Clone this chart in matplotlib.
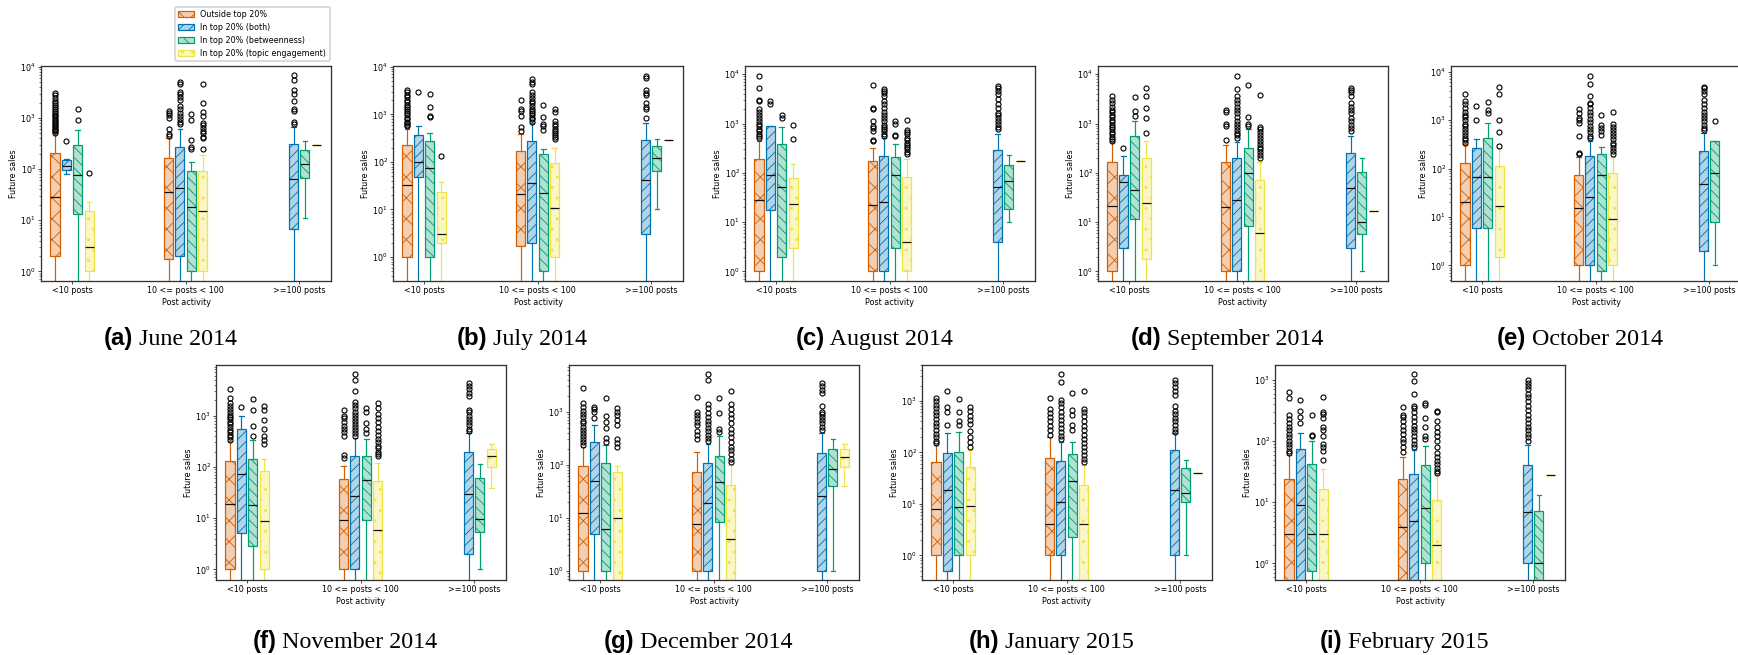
import matplotlib
matplotlib.use("Agg")
import matplotlib.pyplot as plt
from matplotlib.patches import Patch

# figure size in pixels
W, H = 1738, 655
DPI = 125

groups = ["<10 posts", "10 <= posts < 100", ">=100 posts"]
series = ["Outside top 20%", "In top 20% (both)", "In top 20% (betweenness)",
          "In top 20% (topic engagement)"]
colors = ["#d55e00", "#0072b2", "#009e73", "#f0e442"]
hatches = ["xx", "////", "\\\\\\\\", ".."]

# one row per box: (group, series, q1, median, q3, whisker low, whisker high, fliers)
# whisker low / q1 of 0 means the box runs off the bottom of the log axis
june_2014 = [
    (0, 0, 2, 29, 207, 0, 500, [520, 550, 580, 620, 660, 700, 750, 800, 860, 920, 1000, 1080,
                                1150, 1250, 1350, 1500, 1650, 1800, 2000, 2200, 2500, 2800, 3100]),
    (0, 1, 98, 117, 153, 81, 155, [355]),
    (0, 2, 13.5, 77, 302, 0, 575, [900, 1480]),
    (0, 3, 1, 3, 15.2, 0, 23, [84]),
    (1, 0, 1.77, 36, 168, 0, 400, [450, 480, 600, 1000, 1150, 1250, 1400]),
    (1, 1, 2, 43, 271, 0, 620, [780, 850, 950, 1100, 1250, 1500, 1700, 2300, 2600, 2900, 3300, 4700, 5000]),
    (1, 2, 1, 18, 93, 0, 135, [250, 270, 380, 900, 1200]),
    (1, 3, 1, 15, 90, 0, 192, [250, 400, 430, 500, 560, 650, 720, 800, 1100, 1300, 2000, 4600]),
    (2, 1, 6.8, 64, 305, 0, 670, [780, 820, 1400, 1500, 2200, 2900, 3500, 5500, 6900]),
    (2, 2, 67, 124, 240, 11, 355, []),
    (2, 3, 297, 297, 297, 297, 297, []),
]

july_2014 = [
    (0, 0, 1, 33, 225, 0, 490, [560, 600, 650, 700, 780, 850, 950, 1050, 1150, 1300, 1450, 1600,
                                1800, 2000, 2300, 2600, 3000, 3200]),
    (0, 1, 49, 100, 365, 0, 570, [2950]),
    (0, 2, 1, 73, 278, 0, 400, [880, 930, 1400, 2700]),
    (0, 3, 2, 3.1, 23, 0, 37, [130]),
    (1, 0, 1.73, 21, 166, 0, 380, [450, 550, 930, 1200, 1300, 2000]),
    (1, 1, 2, 36, 270, 0, 670, [700, 780, 850, 950, 1050, 1150, 1300, 1500, 1700, 1900, 2200, 2500,
                                3000, 4300, 4800, 5400]),
    (1, 2, 0.5, 22, 150, 0, 183, [460, 570, 640, 880, 1600]),
    (1, 3, 1, 11, 95, 0, 192, [300, 330, 370, 400, 440, 500, 560, 620, 720, 1100, 1270]),
    (2, 1, 3, 42, 287, 0, 670, [830, 1300, 1400, 1750, 2500, 2800, 3200, 5700, 6500]),
    (2, 2, 63, 119, 211, 10, 306, []),
    (2, 3, 292, 292, 292, 292, 292, []),
]

august_2014 = [
    (0, 0, 1, 28, 190, 0, 450, [500, 560, 620, 700, 780, 880, 1000, 1150, 1300, 1500, 1750, 2000,
                                2900, 3000, 5300, 9300]),
    (0, 1, 17.7, 90, 900, 0, 900, [2500, 2800]),
    (0, 2, 2, 51, 377, 0, 830, [1300, 1500]),
    (0, 3, 3, 23, 78, 0, 150, [480, 950]),
    (1, 0, 1, 22, 170, 0, 320, [440, 470, 700, 800, 900, 1150, 2000, 2100, 6100]),
    (1, 1, 1, 25, 215, 0, 520, [560, 620, 700, 780, 850, 950, 1100, 1300, 1500, 1700, 2100, 2500,
                                2800, 3600, 4100, 4600, 5100]),
    (1, 2, 3, 90, 205, 0, 377, [550, 580, 1000, 1100]),
    (1, 3, 1, 4, 81, 0, 193, [240, 270, 300, 330, 370, 410, 460, 520, 600, 680, 740, 1200]),
    (2, 1, 4, 52, 285, 0, 600, [760, 850, 1000, 1150, 1300, 1500, 1650, 2100, 2500, 3100, 4000,
                                4600, 5200, 5800]),
    (2, 2, 18.5, 68, 144, 10, 233, []),
    (2, 3, 170, 170, 170, 170, 170, []),
]

september_2014 = [
    (0, 0, 1, 21.6, 163, 0, 413, [440, 480, 530, 600, 680, 760, 850, 950, 1050, 1200, 1350, 1500,
                                  1700, 1900, 2200, 2600, 3000, 3700]),
    (0, 1, 3, 65, 90, 0, 215, [315]),
    (0, 2, 11.3, 44, 547, 0, 1130, [1400, 1800, 3500]),
    (0, 3, 1.75, 24.5, 200, 0, 445, [650, 1300, 2100, 3600, 5200]),
    (1, 0, 1, 20.6, 163, 0, 370, [470, 870, 1000, 1700, 1850]),
    (1, 1, 1, 28, 202, 0, 413, [520, 580, 650, 750, 850, 1000, 1150, 1350, 1600, 1900, 2200, 2600,
                                3000, 3600, 4900, 9000]),
    (1, 2, 8.5, 100, 313, 0, 760, [870, 1000, 1350, 6000]),
    (1, 3, 0, 6, 71, 0, 163, [200, 230, 260, 300, 340, 390, 440, 500, 580, 680, 780, 850, 3800]),
    (2, 1, 3, 49, 250, 0, 560, [700, 800, 950, 1100, 1300, 1600, 1900, 2200, 2600, 3700, 4300,
                                4800, 5300]),
    (2, 2, 5.8, 10, 102, 1, 200, []),
    (2, 3, 17, 17, 17, 17, 17, []),
]

october_2014 = [
    (0, 0, 1, 20, 130, 0, 320, [340, 380, 430, 500, 570, 650, 750, 850, 1000, 1150, 1300, 1500,
                                1800, 2100, 2500, 3500]),
    (0, 1, 6, 66, 260, 0, 400, [1000, 1950]),
    (0, 2, 6, 67, 425, 0, 890, [1400, 1650, 2400]),
    (0, 3, 1.5, 17, 111, 0, 265, [290, 580, 1000, 3400, 4800]),
    (1, 0, 1, 15, 73, 0, 170, [200, 210, 470, 880, 1000, 1100, 1400, 1700]),
    (1, 1, 1, 25.5, 178, 0, 375, [420, 480, 560, 650, 760, 900, 1050, 1250, 1500, 1750, 2100,
                                  2300, 3100, 5500, 8000]),
    (1, 2, 0.75, 73, 202, 0, 272, [500, 600, 700, 800, 1300]),
    (1, 3, 1, 9, 81, 0, 175, [200, 230, 260, 300, 340, 400, 460, 540, 620, 720, 850, 1500]),
    (2, 1, 2, 48, 225, 0, 547, [620, 700, 800, 950, 1100, 1300, 1500, 1800, 2100, 2600, 3500,
                                4000, 4500, 4800]),
    (2, 2, 7.8, 80, 362, 1, 362, [960]),
]

november_2014 = [
    (0, 0, 1, 18.7, 129, 0, 315, [340, 380, 420, 470, 530, 600, 680, 760, 850, 950, 1050, 1200,
                                  1350, 1550, 1800, 2200, 3300]),
    (0, 1, 5.2, 72, 550, 0, 970, [1500]),
    (0, 2, 2.9, 17.7, 143, 0, 330, [410, 640, 1300, 2150]),
    (0, 3, 1, 8.7, 82, 0, 143, [280, 330, 400, 550, 830, 1300, 1550]),
    (1, 0, 1, 9, 58, 0, 106, [150, 170, 400, 480, 560, 640, 750, 900, 1000, 1300]),
    (1, 1, 1, 27, 160, 0, 367, [400, 460, 520, 600, 680, 780, 900, 1050, 1200, 1400, 1600, 1850,
                                3000, 5000, 6500]),
    (1, 2, 9.4, 55, 161, 0, 350, [460, 550, 720, 1200, 1400]),
    (1, 3, 0, 5.8, 53, 0, 120, [160, 180, 200, 230, 260, 300, 350, 420, 500, 600, 750, 900, 1100,
                                1400, 1800]),
    (2, 1, 1.96, 30, 196, 0, 460, [500, 560, 650, 750, 850, 1000, 1200, 1300, 2400, 2800, 3300,
                                   3800, 4300]),
    (2, 2, 5.3, 9.7, 61, 1, 114, []),
    (2, 3, 99, 161, 224, 39, 277, []),
]

december_2014 = [
    (0, 0, 1, 12, 96, 0, 220, [240, 270, 310, 350, 400, 460, 520, 600, 680, 780, 900, 1050, 1200,
                               1450, 2800]),
    (0, 1, 5, 50, 265, 0, 560, [750, 1000, 1100, 1200]),
    (0, 2, 1, 6, 106, 0, 235, [270, 320, 500, 650, 830, 1800]),
    (0, 3, 0, 10, 74, 0, 96, [220, 260, 300, 560, 700, 850, 1000, 1150]),
    (1, 0, 1, 7.6, 72, 0, 173, [300, 360, 430, 550, 650, 750, 850, 1000, 1900]),
    (1, 1, 1, 19, 106, 0, 250, [280, 320, 370, 430, 500, 580, 680, 800, 950, 1150, 1400, 4000, 5100]),
    (1, 2, 8.2, 48, 146, 0, 350, [420, 470, 950, 1800]),
    (1, 3, 0, 4, 41, 0, 98, [110, 130, 160, 190, 220, 270, 330, 400, 480, 600, 750, 900, 1100,
                             1400, 2400]),
    (2, 1, 1, 26, 164, 0, 390, [450, 520, 600, 700, 800, 900, 1000, 1300, 2200, 2600, 3000, 3400]),
    (2, 2, 40, 83, 198, 1, 310, []),
    (2, 3, 89, 141, 198, 40, 242, []),
]

january_2015 = [
    (0, 0, 1, 8, 64, 0, 140, [150, 170, 200, 230, 270, 320, 380, 450, 530, 620, 720, 850, 1000, 1150]),
    (0, 1, 0.5, 19, 96, 0, 235, [340, 620, 750, 1600]),
    (0, 2, 1, 8.6, 104, 0, 250, [340, 400, 600, 1100]),
    (0, 3, 1, 9, 53, 0, 112, [130, 160, 200, 260, 350, 420, 520, 650, 780]),
    (1, 0, 1, 4, 79, 0, 197, [220, 270, 330, 400, 480, 580, 690, 1150]),
    (1, 1, 1, 11, 69, 0, 162, [180, 210, 250, 300, 360, 430, 520, 620, 750, 900, 1050, 2300, 3300]),
    (1, 2, 2.24, 28, 92, 0, 162, [270, 340, 540, 670, 1450]),
    (1, 3, 0, 4, 23, 0, 57, [65, 75, 90, 105, 125, 150, 180, 220, 270, 330, 400, 500, 600, 700, 1600]),
    (2, 1, 1, 19, 112, 0, 235, [250, 290, 340, 400, 470, 550, 650, 800, 1300, 1600, 1900, 2200, 2600]),
    (2, 2, 11, 16, 49, 1, 71, []),
    (2, 3, 39, 39, 39, 39, 39, []),
]

february_2015 = [
    (0, 0, 0, 3, 24, 0, 59, [63, 70, 80, 90, 100, 115, 130, 150, 170, 200, 230, 270, 500, 640]),
    (0, 1, 0, 9, 74, 0, 134, [200, 250, 310, 470]),
    (0, 2, 0.76, 3, 42, 0, 100, [120, 125, 270]),
    (0, 3, 0, 3, 16.5, 0, 35, [50, 70, 80, 90, 120, 150, 170, 240, 280, 300, 525]),
    (1, 0, 0, 4, 24, 0, 55, [67, 80, 95, 110, 130, 150, 180, 210, 250, 270, 360]),
    (1, 1, 0, 5, 29, 0, 72, [80, 90, 105, 120, 140, 160, 180, 210, 250, 300, 350, 380, 600, 950, 1250]),
    (1, 2, 1, 8, 40, 0, 83, [110, 120, 170, 240, 390, 420]),
    (1, 3, 0, 2, 11, 0, 28, [30, 33, 37, 42, 48, 55, 65, 80, 100, 120, 140, 170, 210, 300, 310]),
    (2, 1, 1, 7, 40, 0, 86, [100, 115, 130, 150, 170, 200, 230, 270, 320, 380, 450, 520, 600, 700,
                             800, 900, 1000]),
    (2, 2, 0, 1, 7.1, 0, 13, []),
    (2, 3, 28, 28, 28, 28, 28, []),
]

panels = [june_2014, july_2014, august_2014, september_2014, october_2014,
          november_2014, december_2014, january_2015, february_2015]
captions = [("(a)", "June 2014"), ("(b)", "July 2014"), ("(c)", "August 2014"),
            ("(d)", "September 2014"), ("(e)", "October 2014"), ("(f)", "November 2014"),
            ("(g)", "December 2014"), ("(h)", "January 2015"), ("(i)", "February 2015")]
# y limits as powers of ten
ylims = [(-0.189, 4.018), (-0.503, 4.015), (-0.196, 4.167), (-0.196, 4.167), (-0.322, 4.117),
         (-0.208, 3.99), (-0.176, 3.88), (-0.48, 3.70), (-0.273, 3.246)]

# axes boxes in pixels (left, top), all 290 x 215
ax_boxes = [(41, 66), (393, 66), (745, 66), (1098, 66), (1451, 66),
            (216, 365), (569, 365), (922, 365), (1275, 365)]
AW, AH = 290, 215
offsets = [-0.15, -0.05, 0.05, 0.15]

plt.rcParams["font.size"] = 4.6
plt.rcParams["hatch.linewidth"] = 0.5
plt.rcParams["axes.linewidth"] = 0.75
plt.rcParams["axes.edgecolor"] = "#333333"

fig = plt.figure(figsize=(W / DPI, H / DPI), dpi=DPI)

for k, rows in enumerate(panels):
    left, top = ax_boxes[k]
    ax = fig.add_axes([left / W, 1 - (top + AH) / H, AW / W, AH / H])
    ax.set_yscale("log")
    for g, s, q1, med, q3, lo, hi, fl in rows:
        st = dict(q1=q1, med=med, q3=q3, whislo=lo, whishi=hi, fliers=fl)
        c = colors[s]
        ax.bxp([st], positions=[g + offsets[s]], widths=0.08, patch_artist=True,
               manage_ticks=False,
               boxprops=dict(facecolor=matplotlib.colors.to_rgba(c, 0.3), edgecolor=c,
                             hatch=hatches[s], linewidth=0.7),
               whiskerprops=dict(color=c, linewidth=0.7),
               capprops=dict(color=c, linewidth=0.7),
               medianprops=dict(color="#111111", linewidth=0.7),
               flierprops=dict(marker="o", markerfacecolor="none", markeredgecolor="black",
                               markersize=2.9, markeredgewidth=0.65))
    ax.set_xlim(-0.273, 2.28)
    ax.set_ylim(10 ** ylims[k][0], 10 ** ylims[k][1])
    ax.set_xticks([0, 1, 2])
    ax.set_xticklabels(groups)
    ax.set_xlabel("Post activity", labelpad=1.5)
    ax.set_ylabel("Future sales", labelpad=1.5)
    ax.tick_params(which="major", length=1.5, width=0.4, pad=1.5)
    ax.tick_params(which="minor", length=0.9, width=0.3)

    if k == 0:
        handles = [Patch(facecolor=matplotlib.colors.to_rgba(colors[i], 0.3), edgecolor=colors[i],
                         hatch=hatches[i], linewidth=0.7) for i in range(4)]
        ax.legend(handles, series, loc="lower right", bbox_to_anchor=(0.995, 1.023),
                  fontsize=4.6, borderaxespad=0)

# captions: bold sans tag followed by serif text
renderer = fig.canvas.get_renderer()
for k, (tag, label) in enumerate(captions):
    left, top = ax_boxes[k]
    cx = left + AW / 2 - 16
    base = 345 if k < 5 else 648
    t1 = fig.text(0, 0, tag, fontsize=13.8, fontweight="bold", family="Liberation Sans",
                  va="baseline")
    t2 = fig.text(0, 0, " " + label, fontsize=13.8, family="Liberation Serif", va="baseline")
    w1 = t1.get_window_extent(renderer).width
    w2 = t2.get_window_extent(renderer).width
    x0 = cx - (w1 + w2) / 2
    t1.set_position((x0 / W, 1 - base / H))
    t2.set_position(((x0 + w1) / W, 1 - base / H))

fig.savefig("out.png", dpi=DPI)
